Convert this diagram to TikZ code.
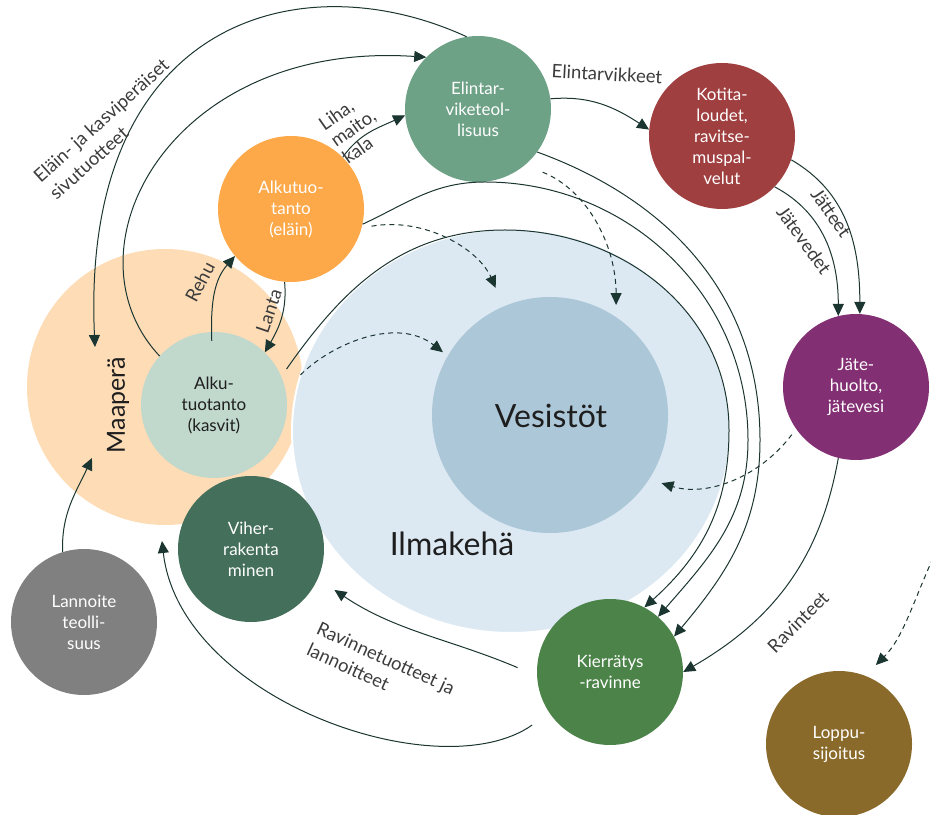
\documentclass[tikz,border=0pt]{standalone}
\usepackage{fontspec}
\setmainfont{Lato}
\usetikzlibrary{arrows.meta,shapes.geometric}

\definecolor{soil}{HTML}{FDDCB6}
\definecolor{air}{HTML}{DCE9F3}
\definecolor{water}{HTML}{ACC7D8}
\definecolor{plants}{HTML}{C1D8CD}
\definecolor{animals}{HTML}{FDA94A}
\definecolor{industry}{HTML}{6EA287}
\definecolor{homes}{HTML}{A03F40}
\definecolor{waste}{HTML}{832F73}
\definecolor{recycle}{HTML}{4B8349}
\definecolor{disposal}{HTML}{8A6A2A}
\definecolor{green}{HTML}{446F5A}
\definecolor{fertil}{HTML}{808080}
\definecolor{linec}{HTML}{1B3530}
\definecolor{labelc}{HTML}{3C3C3C}
\definecolor{inkc}{HTML}{1E1E1E}

\tikzset{
	hub/.style={circle, minimum size=146pt, inner sep=0pt, align=center, text=white, font=\fontsize{17}{21}\selectfont},
	link/.style={draw=linec, line width=1pt, -{Triangle[length=12pt,width=11pt]}},
	seep/.style={link, dash pattern=on 5pt off 4pt},
	flowlabel/.style={text=labelc, font=\fontsize{18.5}{23.5}\selectfont},
	bigword/.style={text=inkc, font=\fontsize{32}{36}\selectfont}
}

\begin{document}
\begin{tikzpicture}[x=1pt,y=1pt]
	\useasboundingbox (0,0) rectangle (931,814);

	% areas
	\node[circle, fill=soil, minimum size=276pt, inner sep=0pt] (M) at (165,427) {};
	\node[ellipse, fill=air, draw=white, line width=2pt, minimum width=438pt, minimum height=404pt, inner sep=0pt] (A) at (511,383) {};
	\node[circle, fill=water, minimum size=236pt, inner sep=0pt] (W) at (550,399) {};
	\node[bigword, rotate=90, font=\fontsize{25}{30}\selectfont] (Mlabel) at (118,409) {Maaperä};
	\node[bigword] (Wlabel) at (551,398) {Vesistöt};
	\node[bigword] (Alabel) at (452,270) {Ilmakehä};

	% actors
	\node[hub, fill=plants, text=inkc] (K) at (214,409) {Alku-\\tuotanto\\(kasvit)};
	\node[hub, fill=animals] (E) at (291,605) {Alkutuo-\\tanto\\(eläin)};
	\node[hub, fill=industry] (T) at (478,705) {Elintar-\\viketeol-\\lisuus};
	\node[hub, fill=homes] (H) at (722,678) {Kotita-\\loudet,\\ravitse-\\muspal-\\velut};
	\node[hub, fill=waste] (J) at (856,427) {Jäte-\\huolto,\\jätevesi};
	\node[hub, fill=recycle] (R) at (610,142) {Kierrätys\\-ravinne};
	\node[hub, fill=disposal] (L) at (839,70) {Loppu-\\sijoitus};
	\node[hub, fill=green] (V) at (251,265) {Viher-\\rakenta\\minen};
	\node[hub, fill=fertil] (N) at (84,192) {Lannoite\\teolli-\\suus};

	\coordinate (mtop) at (95,467);
	\coordinate (mbot) at (92,356);
	\coordinate (offedge) at (933,256);

	% flows
	\draw[link] (T.99) .. controls (300,854) and (80,794) .. (mtop);
	\draw[link] (K.138) .. controls (60,564) and (170,774) .. (T.135);
	\draw[link] (E.45) to[out=55,in=205] (T.185);
	\draw[link] (T.8) to[out=5,in=147] (H.175);
	\draw[link] (H.-19) to[out=-30,in=90] (J.87);
	\draw[link] (H.-44) to[out=-28,in=90] (J.104);
	\draw[link, shorten <=-9pt] (K.92) to[out=92,in=229] (E.220);
	\draw[link] (E.265) to[out=-85,in=60] (K.46);
	\draw[link] (N.107) to[out=92,in=245] (mbot);
	\draw[link, shorten <=9pt] (K.23) to[out=55,in=180] (505,584) to[out=0,in=90] (729,384) to[out=-90,in=42] (R.62);
	\draw[link] (E.-12) to[out=25,in=180] (485,632) to[out=0,in=90] (748,374) to[out=-90,in=49] (R.49);
	\draw[link] (T.-36) to[out=-20,in=90] (760,374) to[out=-90,in=50] (R.29);
	\draw[link] (J.256) to[out=-100,in=30] (R.0);
	\draw[link, shorten <=21pt, shorten >=20pt] (R.183) to[out=157,in=-34] (V.-24);
	\draw[link, shorten <=21pt, shorten >=16pt] (R.214) .. controls (440,24) and (180,114) .. (M.-92);

	\draw[seep, shorten <=10pt, shorten >=20pt] (E.-15) to[out=10,in=114] (W.113);
	\draw[seep, shorten <=21pt, shorten >=6pt] (K.12) to[out=45,in=142] (W.150);
	\draw[seep, shorten <=19pt, shorten >=12pt] (T.-50) to[out=-22,in=90] (W.56);
	\draw[seep, shorten <=7pt, shorten >=13pt] (J.215) to[out=233,in=-17] (W.-33);
	\draw[seep, shorten >=15pt] (offedge) to[out=246,in=45] (L.69);

	% flow labels
	\node[flowlabel, rotate=42, align=left] (sidelabel) at (109,685) {Eläin- ja kasviperäiset\\sivutuotteet};
	\node[flowlabel, rotate=35, align=left, font=\fontsize{18.5}{20.5}\selectfont] (meatlabel) at (353,686) {Liha,\\maito,\\kala};
	\node[flowlabel, rotate=-3] (foodlabel) at (607,740) {Elintarvikkeet};
	\node[flowlabel, rotate=-55] (wastelabel) at (831,601) {Jätteet};
	\node[flowlabel, rotate=-54] (sewagelabel) at (804,574) {Jätevedet};
	\node[flowlabel, rotate=62] (feedlabel) at (200,532) {Rehu};
	\node[flowlabel, rotate=71] (manurelabel) at (269,503) {Lanta};
	\node[flowlabel, rotate=-24.5, align=left] (productlabel) at (381,145) {Ravinnetuotteet ja\\lannoitteet};
	\node[flowlabel, rotate=45] (nutrientlabel) at (798,192) {Ravinteet};
\end{tikzpicture}
\end{document}
